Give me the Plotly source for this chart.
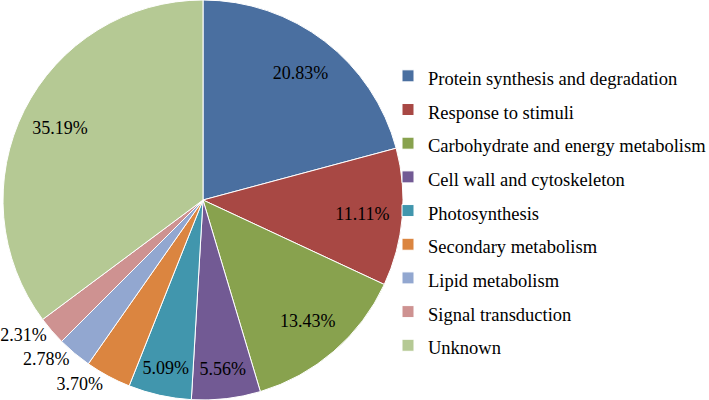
import plotly.graph_objects as go

categories = [
    "Protein synthesis and degradation",
    "Response to stimuli",
    "Carbohydrate and energy metabolism",
    "Cell wall and cytoskeleton",
    "Photosynthesis",
    "Secondary metabolism",
    "Lipid metabolism",
    "Signal transduction",
    "Unknown",
]
values = [20.83, 11.11, 13.43, 5.56, 5.09, 3.70, 2.78, 2.31, 35.19]
colors = ["#4A6FA0", "#A84844", "#88A24E", "#725A94", "#4196AD",
          "#DB8540", "#92A7D0", "#CE9291", "#B5C994"]
text_positions = ["inside", "inside", "inside", "inside", "inside",
                  "outside", "outside", "outside", "inside"]

SERIF = "Times New Roman, Liberation Serif, serif"
labels_html = ['<span style="font-size:18.5px">%s</span>' % c for c in categories]
domain = dict(x=[3 / 709, 403 / 709], y=[0, 1])

fig = go.Figure()
# the coloured pie with its legend
fig.add_trace(go.Pie(
    labels=labels_html, values=values, sort=False,
    direction="clockwise", rotation=0,
    marker=dict(colors=colors, line=dict(color="white", width=1)),
    textinfo="none", showlegend=True, domain=domain,
    hoverinfo="label+percent",
))
# transparent ring on top that only carries the percentage labels
fig.add_trace(go.Pie(
    labels=labels_html, values=values, sort=False,
    direction="clockwise", rotation=0, hole=0.6,
    marker=dict(colors=["rgba(0,0,0,0)"] * len(values), line=dict(width=0)),
    texttemplate="%{value:.2f}%",
    textposition=text_positions,
    insidetextorientation="horizontal",
    textfont=dict(family=SERIF, size=18, color="black"),
    outsidetextfont=dict(family=SERIF, size=18, color="black"),
    insidetextfont=dict(family=SERIF, size=18, color="black"),
    domain=domain, showlegend=False,
    hoverinfo="skip",
))

fig.update_layout(
    width=709, height=400,
    margin=dict(l=0, r=0, t=0, b=0, autoexpand=False),
    paper_bgcolor="white",
    plot_bgcolor="white",
    font=dict(family=SERIF, color="black"),
    showlegend=True,
    legend=dict(
        x=388 / 709, xanchor="left",
        y=0.4725, yanchor="middle",
        font=dict(family=SERIF, size=23.6, color="black"),
        bgcolor="rgba(0,0,0,0)",
    ),
)

fig.write_html("out.html", config={"displayModeBar": False},
               post_script="document.body.style.margin='0px';")
